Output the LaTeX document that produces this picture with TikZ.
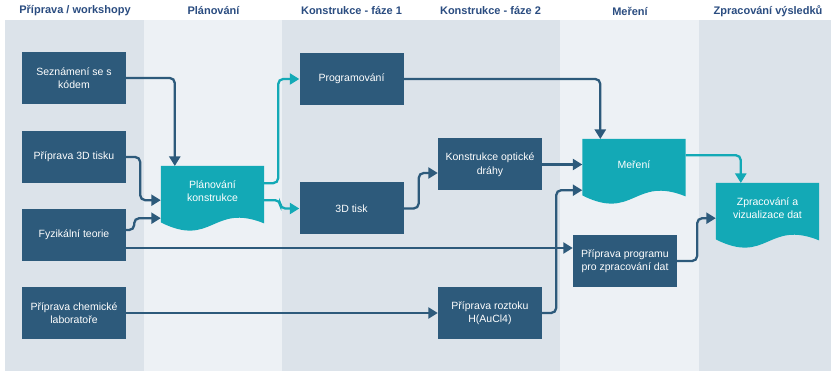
\documentclass[tikz,border=0pt]{standalone}
\usepackage{fontspec}
\setmainfont{Liberation Sans}
\usetikzlibrary{arrows.meta,calc}
\definecolor{lanedark}{HTML}{DCE3EA}
\definecolor{lanelight}{HTML}{EDF1F5}
\definecolor{boxblue}{HTML}{2D5A7B}
\definecolor{docteal}{HTML}{13A9B6}
\definecolor{headblue}{HTML}{2A4C80}
\pgfdeclarelayer{background}
\pgfsetlayers{background,main}
% teal document with a wavy lower edge
\newcommand{\wavydoc}[1]{%
  \fill[docteal] (#1.north west) -- (#1.north east) -- ([yshift=-7pt]#1.south east)
    .. controls ([yshift=14pt]#1.south) and ([yshift=-32pt]#1.south) .. ([yshift=-6pt]#1.south west) -- cycle;}

\begin{document}
\begin{tikzpicture}[x=1pt,y=-1pt,>={Triangle[length=9.5pt,width=11pt]},
  lanetitle/.style={text=headblue,font=\fontsize{11}{13}\selectfont\bfseries},
  task/.style={fill=boxblue,text=white,minimum width=104pt,minimum height=52pt,
    align=center,inner sep=2pt,font=\fontsize{10.5}{13.5}\selectfont},
  doc/.style={text=white,minimum width=103pt,minimum height=50pt,anchor=north,
    align=center,inner sep=2pt,font=\fontsize{10.5}{13.5}\selectfont},
  flow/.style={->,line width=2.3pt,draw=boxblue,rounded corners=5pt},
  tflow/.style={flow,draw=docteal}]
  \useasboundingbox (0,0) rectangle (831,371);
  % lane headings
  \foreach \x/\title [count=\i] in {75/{Příprava / workshopy},213.5/Plánování,
      351.5/{Konstrukce - fáze 1},490.5/{Konstrukce - fáze 2},630/Meření,768/{Zpracování výsledků}}
    \node[lanetitle] (title\i) at (\x,11) {\title};
  % tasks
  \node[task] (intro) at (74,78) {Seznámení se s\\kódem};
  \node[task] (printprep) at (74,157) {Příprava 3D tisku};
  \node[task] (theory) at (74,235) {Fyzikální teorie};
  \node[task] (chemlab) at (74,313) {Příprava chemické\\laboratoře};
  \node[doc] (plan) at (212.5,166) {Plánování\\konstrukce};
  \node[task] (prog) at (351.5,79) {Programování};
  \node[task] (print) at (351.5,208.5) {3D tisk};
  \node[task] (optics) at (490,164.5) {Konstrukce optické\\dráhy};
  \node[task] (solution) at (490,313) {Příprava roztoku\\H(AuCl4)};
  \node[doc] (meas) at (634,139) {Meření};
  \node[task] (dataprog) at (625,261) {Příprava programu\\pro zpracování dat};
  \node[doc] (proc) at (767.5,183) {Zpracování a\\vizualizace dat};
  % lanes and document shapes behind
  \begin{pgfonlayer}{background}
    \fill[lanedark] (5,20) rectangle (144,371);
    \fill[lanelight] (144,20) rectangle (282,371);
    \fill[lanedark] (282,20) rectangle (560,371);
    \fill[lanelight] (560,20) rectangle (699,371);
    \fill[lanedark] (699,20) rectangle (831,371);
    \wavydoc{plan}
    \wavydoc{meas}
    \wavydoc{proc}
  \end{pgfonlayer}
  % connectors
  \draw[flow] (intro.east) -| ([xshift=14pt]plan.north west);
  \draw[flow] (printprep.east) -- ++(14,0) |- ([yshift=-9pt]plan.west);
  \draw[flow] ([yshift=5pt]theory.east) -- ++(8,0) |- ([yshift=-27pt]plan.west);
  \draw[tflow] ([yshift=8pt]plan.east) -- ++(14,0) |- (prog.west);
  \draw[tflow] ([yshift=-9pt]plan.east) -- ++(16,0) |- (print.west);
  \draw[flow] (prog.east) -| ([xshift=18pt]meas.north west);
  \draw[flow] (print.east) -- ++(15,0) |- ([yshift=-8.5pt]optics.west);
  \draw[flow] (optics.east) -- (optics.east -| meas.west);
  \draw[flow] (solution.east) -- ++(14,0) |- ([yshift=-26pt]meas.west);
  \draw[flow] ([yshift=-13pt]theory.east) -- ([yshift=-13pt]theory.east -| dataprog.west);
  \draw[flow] (chemlab.east) -- (solution.west);
  \draw[tflow] ([yshift=9pt]meas.east) -| ([xshift=25pt]proc.north west);
  \draw[flow] (dataprog.east) -- ++(20,0) |- ([yshift=-10pt]proc.west);
\end{tikzpicture}
\end{document}
